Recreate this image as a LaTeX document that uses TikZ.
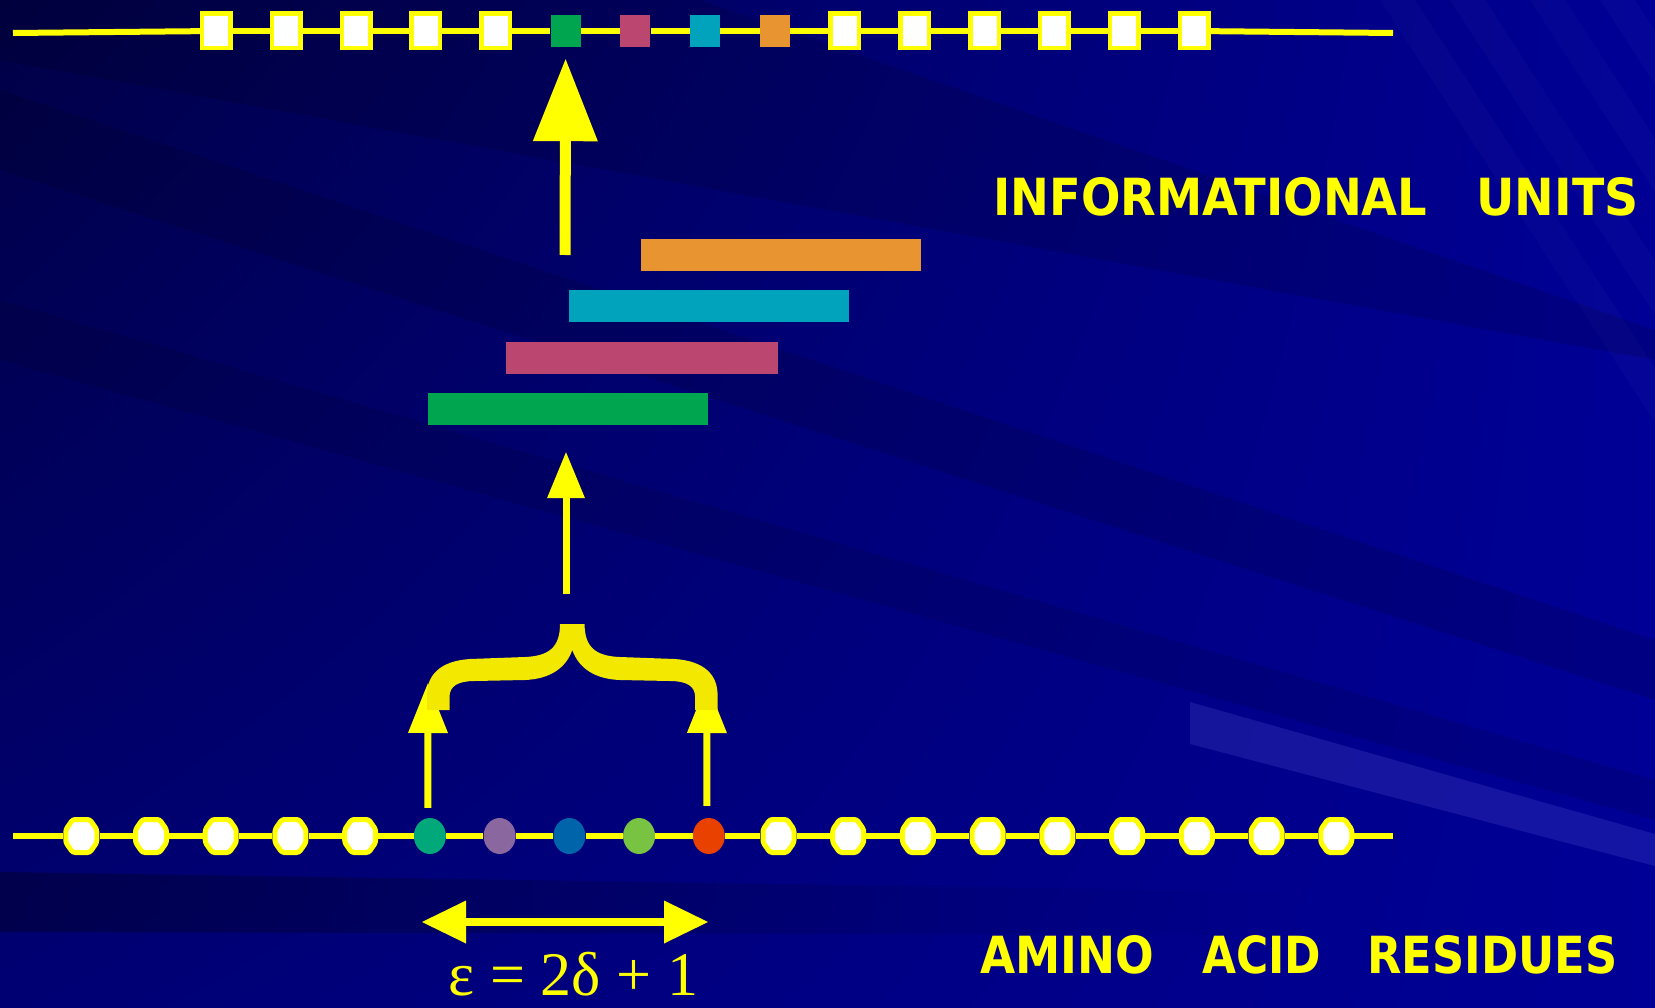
\documentclass[tikz,border=0pt]{standalone}
\usepackage{fontspec}
\usepackage{graphicx}
\usetikzlibrary{arrows.meta,shapes.geometric,calc,shadings,fadings}
\newfontfamily\labfont{DejaVu Sans}
\newfontfamily\eqfont{Liberation Serif}
\definecolor{bgA}{RGB}{0,0,70}
\definecolor{bgB}{RGB}{0,0,150}
\definecolor{bgC}{RGB}{0,0,115}
\definecolor{bgD}{RGB}{0,0,150}
\definecolor{bglight}{RGB}{70,70,200}
\definecolor{ylw}{RGB}{255,255,0}
\definecolor{brc}{RGB}{242,232,0}
\definecolor{sqgreen}{RGB}{0,165,80}
\definecolor{sqpink}{RGB}{187,70,112}
\definecolor{sqcyan}{RGB}{0,163,187}
\definecolor{sqorange}{RGB}{232,148,48}
\definecolor{bgreen}{RGB}{0,168,122}
\definecolor{bpurple}{RGB}{139,103,160}
\definecolor{bblue}{RGB}{0,100,170}
\definecolor{blime}{RGB}{120,195,65}
\definecolor{bred}{RGB}{232,65,0}
\begin{document}
\begin{tikzpicture}[x=1pt,y=-1pt,
  wsq/.style={rectangle,draw=ylw,line width=4.5pt,fill=white,minimum width=28.5pt,minimum height=34.5pt,inner sep=0pt},
  csq/.style={rectangle,minimum width=30pt,minimum height=32pt,inner sep=0pt},
  wbead/.style={ellipse,minimum width=36pt,minimum height=38pt,inner sep=0pt},
  octo/.style={draw=ylw,line width=5pt,fill=white,rounded corners=2.5pt},
  cbead/.style={ellipse,minimum width=32pt,minimum height=36pt,inner sep=0pt},
  bar/.style={rectangle,minimum height=32pt,inner sep=0pt},
  chainline/.style={draw=ylw,line width=6pt},
  bigarr/.style={draw=ylw,line width=11pt,-{Triangle[width=65pt,length=82pt,line width=0pt]}},
  midarr/.style={draw=ylw,line width=7pt,-{Triangle[width=38pt,length=46pt,line width=0pt]}},
  smallarr/.style={draw=ylw,line width=7pt,-{Triangle[width=40pt,length=50pt,line width=0pt]}},
  dblarr/.style={draw=ylw,line width=8pt,{Triangle[width=43pt,length=44pt,line width=0pt]}-{Triangle[width=43pt,length=44pt,line width=0pt]}},
  lab/.style={text=ylw,font=\labfont\bfseries,inner sep=0pt}
]
\useasboundingbox (0,0) rectangle (1655,1008);
% background
\shade[upper left=bgA,upper right=bgB,lower left=bgC,lower right=bgD] (0,0) rectangle (1655,1008);
\fill[black,opacity=0.12] (0,90) -- (1655,640) -- (1655,700) -- (0,170) -- cycle;
\fill[black,opacity=0.10] (0,300) -- (1655,780) -- (1655,820) -- (0,360) -- cycle;
\fill[black,opacity=0.12] (0,0) -- (700,0) -- (1655,330) -- (1655,360) -- (0,60) -- cycle;
\fill[black,opacity=0.3,path fading=east] (0,872) -- (1300,892) -- (1300,935) -- (0,932) -- cycle;
\fill[bglight,opacity=0.3] (1190,702) -- (1655,834) -- (1655,866) -- (1190,744) -- cycle;
\foreach \s in {1380,1450,1530,1600}
  \fill[white,opacity=0.02] (\s,0) -- (\s+35,0) -- (\s+315,430) -- (\s+280,430) -- cycle;

% top chain
\coordinate (tl) at (13,33);
\coordinate (tr) at (1393,33);
\foreach \i in {0,1,2,3,4,9,10,11,12,13,14}
  \node[wsq] (sq\i) at ({216.4+69.84*\i},31) {};
\foreach \i/\c in {5/sqgreen,6/sqpink,7/sqcyan,8/sqorange}
  \node[csq,fill=\c] (sq\i) at ({216.4+69.84*\i},31) {};
\draw[chainline] (tl) -- (sq0);
\foreach \i [evaluate=\i as \j using int(\i+1)] in {0,...,13}
  \draw[chainline] (sq\i) -- (sq\j);
\draw[chainline] (sq14) -- (tr);

% bars
\node[bar,fill=sqorange,minimum width=280pt] (obar) at (781,255) {};
\node[bar,fill=sqcyan,minimum width=280pt] (cbar) at (709,306) {};
\node[bar,fill=sqpink,minimum width=272pt] (pbar) at (642,358) {};
\node[bar,fill=sqgreen,minimum width=280pt] (gbar) at (568,409) {};

% bottom chain
\coordinate (bl) at (13,836);
\coordinate (br) at (1393,836);
\foreach \i in {0,1,2,3,4,10,11,12,13,14,15,16,17,18} {
  \node[wbead] (b\i) at ({81.3+69.72*\i},836) {};
  \draw[octo,shift={(b\i.center)}] (-8.5,-16.5) -- (8.5,-16.5) -- (15.5,-6.5) -- (15.5,6.5) -- (8.5,16.5)
     -- (-8.5,16.5) -- (-15.5,6.5) -- (-15.5,-6.5) -- cycle;
}
\foreach \i/\c in {5/bgreen,6/bpurple,7/bblue,8/blime,9/bred}
  \node[cbead,fill=\c] (b\i) at ({81.3+69.72*\i},836) {};
\draw[chainline] (bl) -- (b0);
\foreach \i [evaluate=\i as \j using int(\i+1)] in {0,...,17}
  \draw[chainline] (b\i) -- (b\j);
\draw[chainline] (b18) -- (br);

% arrows
\coordinate (a1s) at (565,255);
\draw[bigarr] (a1s) -- ($(sq5.south)+(0,12)$);
\coordinate (a2s) at (566,594);
\draw[midarr] (a2s) -- ($(gbar.south)+(-2,27)$);
\coordinate (lbt) at (428,683);
\coordinate (rbt) at (707,683);
\draw[smallarr] ($(b5.north)+(-2,-10)$) -- (lbt);
\draw[smallarr] ($(b9.north)+(-2,-12)$) -- (rbt);

% brace
\fill[brc] (560,624) .. controls (560,648) and (548,656) .. (525,657) -- (470,659)
  .. controls (440,661) and (427,675) .. (427,695) -- (427,710) -- (449.5,710) -- (449.5,697)
  .. controls (449.5,686) and (458,681) .. (475,681) -- (525,680)
  .. controls (550,679) and (566,668) .. (572.3,650)
  .. controls (578.6,668) and (594.6,679) .. (619.6,680) -- (669.6,681)
  .. controls (686.6,681) and (695.1,686) .. (695.1,697) -- (695.1,710) -- (717.6,710) -- (717.6,695)
  .. controls (717.6,675) and (704.6,661) .. (674.6,659) -- (619.6,657)
  .. controls (596.6,656) and (584.6,648) .. (584.6,624) -- cycle;

% double arrow
\coordinate (dl) at (422,922);
\coordinate (dr) at (708,922);
\draw[dblarr] (dl) -- (dr);

% texts
\node[text=ylw,inner sep=0pt,anchor=base,font=\eqfont\fontsize{62}{62}\selectfont] (eq) at (573.5,995) {ε = 2δ + 1};
\node[lab,anchor=base west] (iu) at (993,216) {\resizebox{434pt}{38pt}{INFORMATIONAL}\hspace{49pt}\resizebox{162pt}{38pt}{UNITS}};
\node[lab,anchor=base west] (aar) at (980,973) {\resizebox{174pt}{38pt}{AMINO}\hspace{48pt}\resizebox{119pt}{38pt}{ACID}\hspace{46pt}\resizebox{250pt}{38pt}{RESIDUES}};
\end{tikzpicture}
\end{document}
